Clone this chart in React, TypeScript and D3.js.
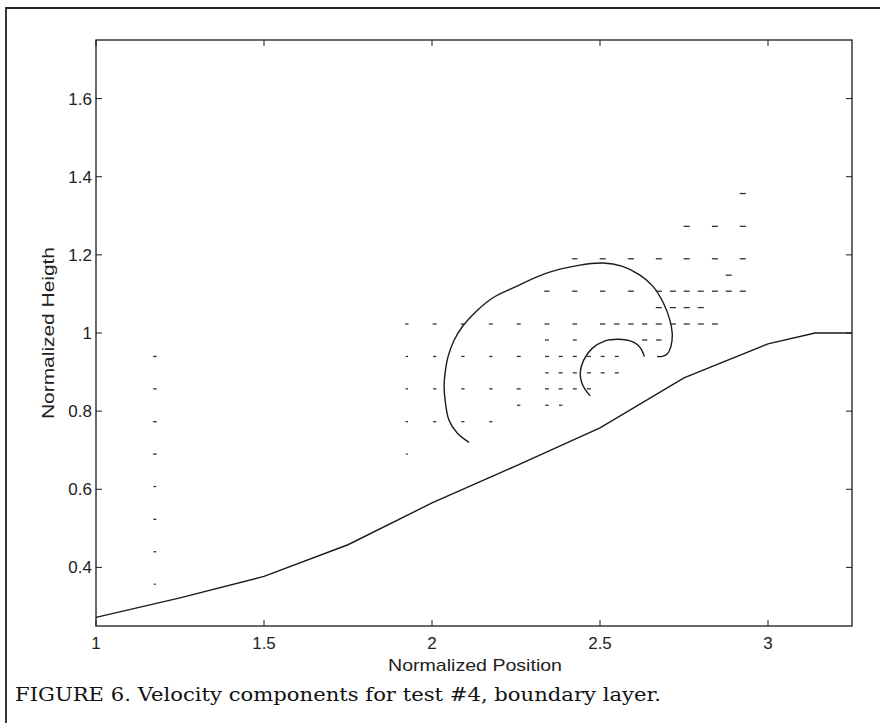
import React from 'react';
import * as d3 from 'd3';

const xTicks = [1, 1.5, 2, 2.5, 3];
const yTicks = [0.4, 0.6, 0.8, 1, 1.2, 1.4, 1.6];
const xDomain = [1, 3.25];
const yDomain = [0.25, 1.75];

// lower boundary (wall) profile
const wallX = [1.0, 1.25, 1.5, 1.75, 2.0, 2.25, 2.5, 2.75, 3.0, 3.14, 3.25];
const wallY = [0.272, 0.322, 0.377, 0.458, 0.565, 0.66, 0.757, 0.885, 0.972, 1.0, 1.0];

// outer streamline (spiral)
const outerX = [2.11, 2.075, 2.05, 2.039, 2.036, 2.039, 2.048, 2.065, 2.09, 2.13, 2.179, 2.248, 2.337, 2.436, 2.51, 2.565, 2.619, 2.659, 2.689, 2.708, 2.715, 2.711, 2.7, 2.685, 2.67];
const outerY = [0.72, 0.744, 0.778, 0.829, 0.863, 0.898, 0.94, 0.98, 1.016, 1.054, 1.089, 1.118, 1.152, 1.173, 1.179, 1.171, 1.148, 1.118, 1.076, 1.033, 0.999, 0.965, 0.946, 0.94, 0.94];

// inner streamline
const innerX = [2.471, 2.456, 2.446, 2.441, 2.451, 2.476, 2.515, 2.555, 2.59, 2.612, 2.625, 2.632];
const innerY = [0.839, 0.855, 0.872, 0.897, 0.93, 0.96, 0.98, 0.984, 0.98, 0.97, 0.955, 0.94];

// velocity vectors: [x, y, u]
const vectors: [number, number, number][] = [
  [1.175, 0.357, 0.006], [1.175, 0.44, 0.008], [1.175, 0.523, 0.009], [1.175, 0.607, 0.008],
  [1.175, 0.69, 0.011], [1.175, 0.773, 0.011], [1.175, 0.857, 0.011], [1.175, 0.94, 0.011],
  [1.925, 0.69, 0.006],
  [1.925, 0.773, 0.007], [2.008, 0.773, 0.009], [2.092, 0.773, 0.009], [2.175, 0.773, 0.009],
  [2.258, 0.815, 0.01], [2.342, 0.815, 0.01], [2.383, 0.815, 0.01],
  [1.925, 0.857, 0.007], [2.008, 0.857, 0.01], [2.092, 0.857, 0.01], [2.175, 0.857, 0.01], [2.258, 0.857, 0.012],
  [2.342, 0.857, 0.012], [2.383, 0.857, 0.012], [2.425, 0.857, 0.012], [2.467, 0.857, 0.012],
  [2.342, 0.898, 0.01], [2.383, 0.898, 0.012], [2.425, 0.898, 0.012], [2.467, 0.898, 0.012], [2.508, 0.898, 0.012], [2.55, 0.898, 0.012],
  [1.925, 0.94, 0.007], [2.008, 0.94, 0.01], [2.092, 0.94, 0.01], [2.175, 0.94, 0.01], [2.258, 0.94, 0.012],
  [2.342, 0.94, 0.012], [2.383, 0.94, 0.012], [2.425, 0.94, 0.012], [2.467, 0.94, 0.012], [2.508, 0.94, 0.012], [2.55, 0.94, 0.012],
  [2.342, 0.982, 0.012], [2.425, 0.982, 0.012], [2.633, 0.982, 0.016], [2.675, 0.982, 0.016],
  [1.925, 1.023, 0.01], [2.008, 1.023, 0.012], [2.092, 1.023, 0.012], [2.175, 1.023, 0.012], [2.258, 1.023, 0.012],
  [2.342, 1.023, 0.014], [2.425, 1.023, 0.014], [2.508, 1.023, 0.016], [2.55, 1.023, 0.016], [2.592, 1.023, 0.016],
  [2.633, 1.023, 0.016], [2.675, 1.023, 0.018], [2.717, 1.023, 0.018], [2.758, 1.023, 0.018], [2.8, 1.023, 0.018], [2.842, 1.023, 0.018],
  [2.675, 1.065, 0.018], [2.717, 1.065, 0.018], [2.758, 1.065, 0.018], [2.8, 1.065, 0.018],
  [2.342, 1.107, 0.016], [2.425, 1.107, 0.016], [2.508, 1.107, 0.016], [2.592, 1.107, 0.018], [2.675, 1.107, 0.018],
  [2.717, 1.107, 0.018], [2.758, 1.107, 0.018], [2.8, 1.107, 0.018], [2.842, 1.107, 0.018], [2.883, 1.107, 0.018], [2.925, 1.107, 0.018],
  [2.883, 1.148, 0.018],
  [2.425, 1.19, 0.016], [2.508, 1.19, 0.018], [2.592, 1.19, 0.018], [2.675, 1.19, 0.018], [2.758, 1.19, 0.018], [2.842, 1.19, 0.018], [2.925, 1.19, 0.018],
  [2.758, 1.273, 0.018], [2.842, 1.273, 0.018], [2.925, 1.273, 0.018],
  [2.925, 1.357, 0.018],
];

const xLabel = 'Normalized Position';
const yLabel = 'Normalized Heigth';
const caption = 'FIGURE 6. Velocity components for test #4, boundary layer.';

export default function App() {
  const W = 880, H = 723;
  const left = 96, right = 852, top = 40, bottom = 626;
  const x = d3.scaleLinear().domain(xDomain).range([left, right]);
  const y = d3.scaleLinear().domain(yDomain).range([bottom, top]);
  const tick = 6;
  const ink = '#1a1a1a';
  const sans = 'Liberation Sans, Arial, sans-serif';

  const wallPath = d3.line<number>()
    .x((d) => x(d))
    .y((_, i) => y(wallY[i]))(wallX) || '';
  const outerPath = d3.line<number>()
    .x((d) => x(d))
    .y((_, i) => y(outerY[i]))
    .curve(d3.curveCatmullRom)(outerX) || '';
  const innerPath = d3.line<number>()
    .x((d) => x(d))
    .y((_, i) => y(innerY[i]))
    .curve(d3.curveCatmullRom)(innerX) || '';

  return (
    <svg width={W} height={H} style={{ position: 'absolute', left: 0, top: 0, background: '#fff' }}>
      <rect x={0} y={0} width={W} height={H} fill="#fff" />
      {/* outer figure frame */}
      <path d={`M6,${H + 5} L6,8 L${W + 5},8`} fill="none" stroke="#222" strokeWidth={1.8} />
      {/* plot box */}
      <rect x={left} y={top} width={right - left} height={bottom - top} fill="none" stroke={ink} strokeWidth={1.3} />
      {xTicks.map((t) => (
        <g key={'x' + t}>
          <line x1={x(t)} x2={x(t)} y1={bottom} y2={bottom - tick} stroke={ink} strokeWidth={1} />
          <line x1={x(t)} x2={x(t)} y1={top} y2={top + tick} stroke={ink} strokeWidth={1} />
          <text x={x(t)} y={bottom + 23} textAnchor="middle" fontFamily={sans} fontSize={17} fill="#222">{String(t)}</text>
        </g>
      ))}
      {yTicks.map((t) => (
        <g key={'y' + t}>
          <line x1={left} x2={left + tick} y1={y(t)} y2={y(t)} stroke={ink} strokeWidth={1} />
          <line x1={right} x2={right - tick} y1={y(t)} y2={y(t)} stroke={ink} strokeWidth={1} />
          <text x={left - 4} y={y(t) + 6} textAnchor="end" fontFamily={sans} fontSize={17} fill="#222">{String(t)}</text>
        </g>
      ))}
      <text x={(left + right) / 2 + 1} y={671} textAnchor="middle" fontFamily={sans} fontSize={17} fill="#222" textLength={174} lengthAdjust="spacingAndGlyphs">{xLabel}</text>
      <text transform={`translate(54,${(top + bottom) / 2}) rotate(-90)`} textAnchor="middle" fontFamily={sans} fontSize={17} fill="#222" textLength={172} lengthAdjust="spacingAndGlyphs">{yLabel}</text>
      <path d={wallPath} fill="none" stroke={ink} strokeWidth={1.4} />
      <path d={outerPath} fill="none" stroke={ink} strokeWidth={1.4} />
      <path d={innerPath} fill="none" stroke={ink} strokeWidth={1.4} />
      {vectors.map(([vx, vy, u], i) => (
        <line key={'v' + i} x1={x(vx - u / 2)} x2={x(vx + u / 2)} y1={y(vy)} y2={y(vy)} stroke="#333" strokeWidth={1.3} />
      ))}
      <text x={15} y={701} fontFamily="DejaVu Serif, Liberation Serif, serif" fontSize={18} fill="#111" textLength={646} lengthAdjust="spacingAndGlyphs">{caption}</text>
    </svg>
  );
}
